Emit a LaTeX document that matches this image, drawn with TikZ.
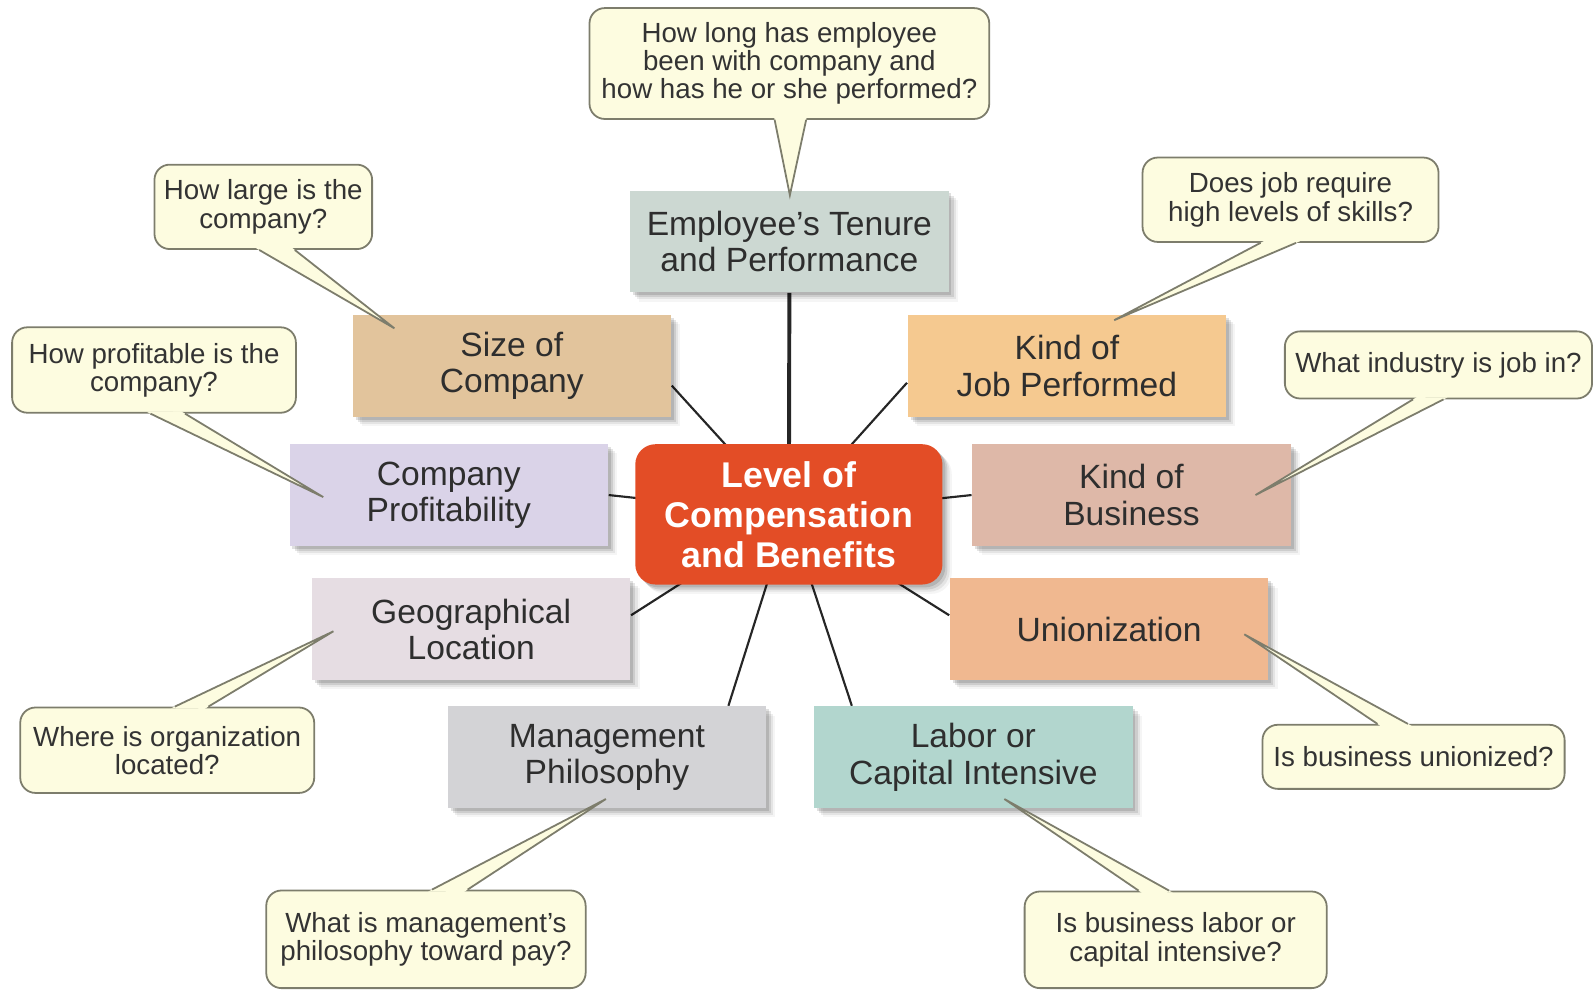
\documentclass[tikz,border=0pt]{standalone}
\usepackage{fontspec}
\setmainfont{Liberation Sans}
\usetikzlibrary{calc,shadows,backgrounds}
\definecolor{hubred}{RGB}{227,77,38}
\definecolor{tenurecol}{RGB}{204,216,210}
\definecolor{sizecol}{RGB}{226,196,156}
\definecolor{jobcol}{RGB}{245,201,144}
\definecolor{profitcol}{RGB}{218,211,232}
\definecolor{businesscol}{RGB}{222,184,168}
\definecolor{geocol}{RGB}{230,221,227}
\definecolor{unioncol}{RGB}{240,184,144}
\definecolor{mgmtcol}{RGB}{211,211,214}
\definecolor{laborcol}{RGB}{178,214,206}
\definecolor{callfill}{RGB}{253,252,224}
\definecolor{callborder}{RGB}{125,125,108}
\tikzset{>=latex}
% tail of a speech bubble: anchor, two offsets of the base, tip
\newcommand{\calltail}[4]{%
  \coordinate (ta) at ($(#1)+(#2,0)$);
  \coordinate (tb) at ($(#1)+(#3,0)$);
  \fill[callfill] ($(ta)!-1.2pt!(#4)$) -- (#4) -- ($(tb)!-1.2pt!(#4)$) -- cycle;
  \draw[callborder, line width=.5pt] (ta) -- (#4) -- (tb);}

\begin{document}
\begin{tikzpicture}[x=0.01cm, y=-0.01cm,
  softshadow/.style={general shadow={shadow xshift=2.6pt, shadow yshift=-2.6pt, fill=black, opacity=.04},
                     general shadow={shadow xshift=2pt, shadow yshift=-2pt, fill=black, opacity=.07},
                     general shadow={shadow xshift=1.4pt, shadow yshift=-1.4pt, fill=black, opacity=.10},
                     general shadow={shadow xshift=.8pt, shadow yshift=-.8pt, fill=black, opacity=.12}},
  factor/.style={fill=#1, minimum width=3.13cm, minimum height=1cm, align=center, inner sep=0pt,
                 text=black!82, font=\fontsize{9.4}{10.2}\selectfont, softshadow},
  question/.style={draw=callborder, line width=.5pt, fill=callfill, rounded corners=.15cm, align=center,
                   inner sep=0pt, text=black!80, font=\fontsize{7.75}{7.9}\selectfont},
  link/.style={draw=black!85, line width=.6pt}]
\useasboundingbox (0,0) rectangle (1568,974);

% central box
\node[fill=hubred, rounded corners=.2cm, minimum width=3.02cm, minimum height=1.38cm, align=center, inner sep=0pt,
      text=white, font=\fontsize{10}{11.2}\selectfont\bfseries, softshadow] (hub) at (776,506)
      {Level of\\Compensation\\and Benefits};

% factors
\node[factor=tenurecol] (tenure) at (776.5,237.5) {Employee's Tenure\\and Performance};
\node[factor=sizecol] (size) at (503.5,360) {Size of\\Company};
\node[factor=jobcol] (job) at (1049.5,360) {Kind of\\Job Performed};
\node[factor=profitcol] (profit) at (441.5,487) {Company\\Profitability};
\node[factor=businesscol] (business) at (1113,487) {Kind of\\Business};
\node[factor=geocol] (geo) at (463.5,619) {Geographical\\Location};
\node[factor=unioncol] (union) at (1091,619) {Unionization};
\node[factor=mgmtcol] (mgmt) at (597,745) {Management\\Philosophy};
\node[factor=laborcol] (labor) at (957.5,745) {Labor or\\Capital Intensive};

% connectors
\begin{scope}[on background layer]
\draw[link, line width=1.1pt] (hub.center) -- (tenure.south);
\draw[link] (hub.center) -- (size.-7);
\draw[link] (hub.center) -- (job.186);
\draw[link] (hub.center) -- (profit.east);
\draw[link] (hub.center) -- (business.west);
\draw[link] (hub.center) -- (geo.5);
\draw[link] (hub.center) -- (union.175);
\draw[link] (hub.center) -- (mgmt.23);
\draw[link] (hub.center) -- (labor.157);
\end{scope}

% questions
\node[question, minimum width=3.93cm, minimum height=1.09cm] (qtenure) at (776.5,62.5)
  {How long has employee\\been with company and\\how has he or she performed?};
\node[question, minimum width=2.14cm, minimum height=.83cm] (qsize) at (259,203.5)
  {How large is the\\company?};
\node[question, minimum width=2.79cm, minimum height=.84cm] (qprofit) at (151.5,364)
  {How profitable is the\\company?};
\node[question, minimum width=2.91cm, minimum height=.83cm] (qjob) at (1269.5,196.5)
  {Does job require\\high levels of skills?};
\node[question, minimum width=3.02cm, minimum height=.66cm] (qindustry) at (1415,359)
  {What industry is job in?};
\node[question, minimum width=2.89cm, minimum height=.84cm] (qgeo) at (164.5,738)
  {Where is organization\\located?};
\node[question, minimum width=2.97cm, minimum height=.63cm] (qunion) at (1390.5,744.5)
  {Is business unionized?};
\node[question, minimum width=3.14cm, minimum height=.96cm] (qmgmt) at (419,924)
  {What is management's\\philosophy toward pay?};
\node[question, minimum width=2.97cm, minimum height=.95cm] (qlabor) at (1156.5,924.5)
  {Is business labor or\\capital intensive?};

% tips of the tails
\coordinate (ttenure) at (777,192);
\coordinate (tsize) at (388,323);
\coordinate (tprofit) at (318,489);
\coordinate (tjob) at (1096,315);
\coordinate (tindustry) at (1235,487);
\coordinate (tgeo) at (328,621);
\coordinate (tunion) at (1224,624);
\coordinate (tmgmt) at (596,786);
\coordinate (tlabor) at (988,786);

\calltail{qtenure.south}{-14.5}{16.5}{ttenure}
\calltail{qsize.south}{-4}{31}{tsize}
\calltail{qprofit.south}{-3.5}{30.5}{tprofit}
\calltail{qjob.south}{-29.5}{5.5}{tjob}
\calltail{qindustry.south}{-25}{5}{tindustry}
\calltail{qgeo.north}{7.5}{40.5}{tgeo}
\calltail{qunion.north}{-35.5}{-5.5}{tunion}
\calltail{qmgmt.north}{6}{41}{tmgmt}
\calltail{qlabor.north}{-36.5}{-6.5}{tlabor}
\end{tikzpicture}
\end{document}
